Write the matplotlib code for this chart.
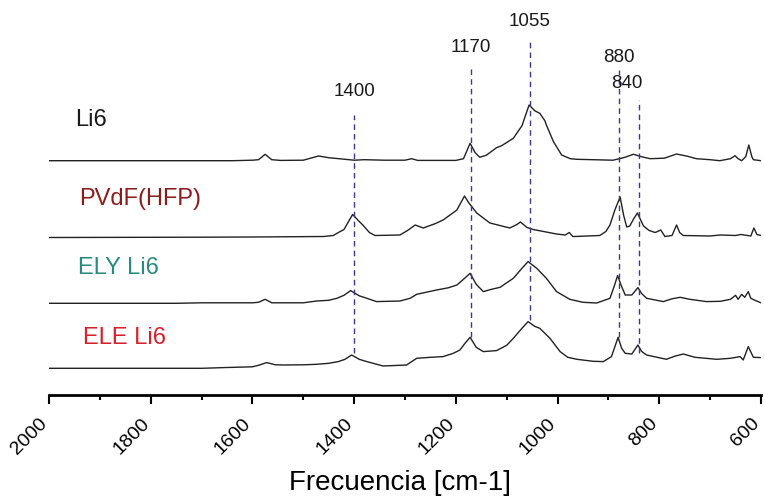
import numpy as np
import matplotlib.pyplot as plt
from matplotlib.ticker import MultipleLocator
from matplotlib.transforms import ScaledTranslation

plt.rcParams['font.family'] = ['Liberation Sans', 'DejaVu Sans']

# Espectres (número d'ona, intensitat relativa a la línia base)
li6_wn = [2000, 1640, 1600, 1588, 1575, 1562, 1545, 1500, 1470, 1450, 1420, 1400, 1380,
          1340, 1300, 1287, 1275, 1200, 1185, 1172, 1162, 1153, 1140, 1120, 1110, 1087,
          1070, 1056, 1045, 1035, 1025, 1022, 1008, 992, 975, 962, 891, 870, 851, 835,
          818, 790, 766, 745, 727, 700, 681, 660, 651, 645, 638, 630, 624, 618, 615, 600]
li6_int = [0, 0, 0.5, 1, 6.4, 1, 0.3, 0.5, 4.7, 3, 1.5, 0.5, 1,
           0.5, 0.5, 2, 0.3, 0.3, 2, 17.4, 8, 3.4, 5.5, 13, 15, 22.4,
           35, 55.7, 50, 47.4, 40, 35.7, 19, 5.7, 2, 1.4, 0.5, 3, 6.4, 4,
           2, 2.5, 6.7, 4.5, 2, 1, 0, 2, 5, 2, 0, 4, 15.7, 4, 1, 0]

pvdf_wn = [2000, 1700, 1600, 1460, 1441, 1431, 1420, 1403, 1390, 1382, 1370, 1359, 1310,
           1295, 1280, 1264, 1240, 1225, 1198, 1190, 1183, 1175, 1159, 1133, 1094, 1080,
           1073, 1060, 1048, 1002, 985, 977, 970, 966, 917, 905, 897, 887, 877, 870, 864,
           858, 850, 843, 837, 831, 820, 808, 797, 789, 775, 766, 760, 753, 700, 680, 650,
           640, 620, 614, 608, 600]
pvdf_int = [0, 0.3, 0.5, 1, 2, 5, 8, 23, 16, 12, 5, 2, 2.5,
            7, 12.5, 9.5, 14, 17.5, 27.5, 35, 41.5, 35, 24.5, 14.5, 9.5, 13,
            15.5, 10, 8, 3.5, 2.5, 5, 1, 1, 2, 6, 12.5, 28, 40.5, 22, 10.5,
            11.5, 19, 24.5, 18, 11.5, 7, 5, 7.5, 1, 2, 12.5, 5, 2, 1.5, 2.5, 2,
            3, 1.5, 9.5, 3, 2]

ely_wn = [2000, 1750, 1700, 1600, 1588, 1575, 1562, 1500, 1474, 1450, 1434, 1420, 1407,
          1390, 1375, 1356, 1310, 1290, 1277, 1238, 1215, 1198, 1185, 1172, 1160, 1146,
          1130, 1113, 1087, 1070, 1058, 1041, 1022, 1002, 976, 950, 923, 897, 888, 882,
          875, 867, 854, 842, 835, 825, 792, 775, 759, 740, 707, 680, 660, 650, 645, 638,
          632, 625, 620, 612, 600]
ely_int = [0, 0, 0.5, 0.5, 1, 4, 0.5, 0.5, 2.3, 3, 5, 8, 12.7,
           7.5, 5, 1.7, 2.3, 5, 9, 13.3, 15.5, 18.3, 24, 30, 19, 11.7,
           14, 16, 25, 35, 41.7, 35, 25, 11.7, 4, 1, 0.3, 5, 18, 27.7,
           18, 8.3, 8.3, 15.7, 10, 5, 1.7, 4.5, 6, 4, 1.7, 2, 4, 8, 4, 9,
           6, 11.7, 5, 3, 0.5]

ele_wn = [2000, 1700, 1650, 1600, 1588, 1572, 1555, 1539, 1500, 1474, 1450, 1431, 1418,
          1405, 1390, 1375, 1343, 1297, 1277, 1250, 1225, 1205, 1192, 1182, 1172, 1160,
          1146, 1120, 1100, 1087, 1070, 1058, 1045, 1035, 1015, 995, 980, 962, 930, 910,
          894, 881, 874, 867, 854, 842, 835, 825, 786, 770, 753, 730, 687, 660, 641, 635,
          625, 615, 600]
ele_int = [0, 0, 0.8, 1.5, 3, 5.7, 3.5, 3.3, 3.5, 4, 5, 6.7, 9,
           13.3, 9, 6.7, 2.3, 3.3, 10, 11, 11.7, 15, 18.3, 25, 31, 21,
           16.7, 17.7, 23, 30, 40, 46.7, 42, 40, 30, 16.7, 11, 9, 7, 6.7,
           11.7, 31, 20, 15, 14.3, 23.3, 17, 13.3, 9, 12, 14.3, 11, 9, 10, 11.7, 8.3,
           21.7, 11, 10.7]

names = ['Li6', 'PVdF(HFP)', 'ELY Li6', 'ELE Li6']
name_colors = ['#1a1a1a', '#8b1c1c', '#2a8a80', '#d8202c']
offsets = [234.3, 157.5, 91.7, 26.7]
spectra = [(li6_wn, li6_int), (pvdf_wn, pvdf_int), (ely_wn, ely_int), (ele_wn, ele_int)]

peaks = [1400, 1170, 1055, 880, 840]
peak_top = [280, 327, 353, 325, 295]
peak_bottom = [42, 58, 75, 58, 42]
peak_label_y = [303, 347, 373, 337, 312]
peak_label_dx = [0, 0, 0, 0, -12]

fig = plt.figure(figsize=(7.64, 5.0), dpi=100)
ax = fig.add_axes([49/764, 105/500, 712/764, 395/500])

for (wn, it), off in zip(spectra, offsets):
    ax.plot(wn, np.array(it) + off, color='#222222', lw=1.0)

for i, name in enumerate(names):
    label_y = [275, 196, 126.5, 57.5][i]
    label_x = [1948, 1940, 1943, 1933][i]
    ax.text(label_x, label_y, name, color=name_colors[i], fontsize=17,
            ha='left', va='center')

for p, top, bot, ly, dx in zip(peaks, peak_top, peak_bottom, peak_label_y, peak_label_dx):
    ax.plot([p, p], [bot, top], color='#3a3a8a', lw=1.0, ls=(0, (4, 3)))
    ax.text(p - dx / 0.5086, ly, str(p), fontsize=13.5, ha='center', va='center',
            color='#1a1a1a')

ax.set_xlim(2000, 600)
ax.set_ylim(0, 395)
ax.xaxis.set_major_locator(MultipleLocator(200))
ax.xaxis.set_minor_locator(MultipleLocator(100))
ax.tick_params(axis='x', which='major', direction='out', length=6.5, width=1.5,
               labelsize=14, pad=12)
ax.tick_params(axis='x', which='minor', direction='out', length=3.6, width=1.5)
shift = ScaledTranslation(-4/100, 0, fig.dpi_scale_trans)
for lab in ax.get_xticklabels():
    lab.set_rotation(45)
    lab.set_ha('right')
    lab.set_va('center')
    lab.set_rotation_mode('anchor')
    lab.set_transform(lab.get_transform() + shift)
ax.set_yticks([])
for s in ['top', 'left', 'right']:
    ax.spines[s].set_visible(False)
ax.spines['bottom'].set_linewidth(2.0)
ax.set_xlabel('Frecuencia [cm-1]', fontsize=20)
ax.xaxis.set_label_coords(0.493, -0.19)

fig.savefig('out.png', dpi=100)
